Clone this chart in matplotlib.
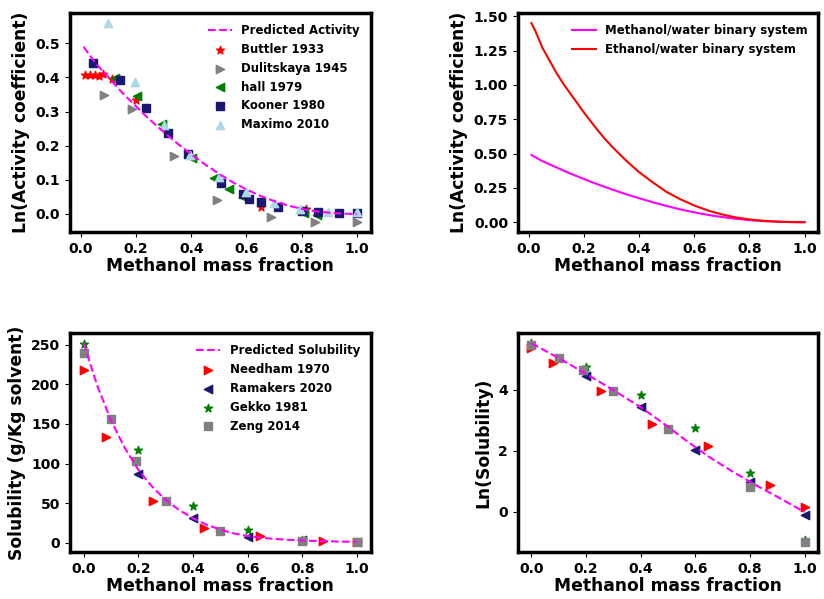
import numpy as np
import matplotlib
matplotlib.use('Agg')
import matplotlib.pyplot as plt

plt.rcParams['font.weight'] = 'bold'
plt.rcParams['axes.labelweight'] = 'bold'

# activity coefficient (methanol / water)
x_pred = [0.01, 0.025, 0.05, 0.075, 0.1, 0.125, 0.15, 0.175, 0.2, 0.225, 0.25, 0.275, 0.3,
          0.35, 0.4, 0.45, 0.5, 0.55, 0.6, 0.65, 0.7, 0.75, 0.8, 0.85, 0.9, 0.95, 1.0]
ln_gamma_meoh = [0.49, 0.472, 0.445, 0.422, 0.40, 0.377, 0.355, 0.335, 0.315, 0.295, 0.276, 0.258, 0.24,
                 0.206, 0.175, 0.145, 0.118, 0.093, 0.072, 0.053, 0.038, 0.025, 0.015, 0.008, 0.004, 0.001, 0.0]
ln_gamma_etoh = [1.45, 1.39, 1.27, 1.18, 1.09, 1.01, 0.94, 0.87, 0.80, 0.735, 0.67, 0.61, 0.555,
                 0.455, 0.365, 0.29, 0.22, 0.167, 0.122, 0.085, 0.057, 0.035, 0.02, 0.01, 0.004, 0.001, 0.0]

buttler_x = [0.015, 0.032, 0.05, 0.065, 0.08, 0.112, 0.2, 0.654, 0.815]
buttler_y = [0.408, 0.406, 0.408, 0.405, 0.41, 0.394, 0.335, 0.02, 0.016]
dulit_x = [0.082, 0.185, 0.338, 0.493, 0.688, 0.849, 1.0]
dulit_y = [0.349, 0.308, 0.170, 0.040, -0.01, -0.024, -0.024]
hall_x = [0.124, 0.203, 0.293, 0.402, 0.481, 0.537, 0.586, 0.712, 0.81, 0.857]
hall_y = [0.397, 0.347, 0.264, 0.165, 0.106, 0.072, 0.049, 0.023, 0.003, -0.002]
kooner_x = [0.042, 0.142, 0.236, 0.314, 0.389, 0.507, 0.586, 0.61, 0.654, 0.715, 0.80, 0.86, 0.936, 1.0]
kooner_y = [0.441, 0.392, 0.311, 0.236, 0.175, 0.092, 0.059, 0.044, 0.0345, 0.02, 0.01, 0.005, 0.003, 0.003]
maximo_x = [0.098, 0.197, 0.30, 0.395, 0.50, 0.598, 0.698, 0.795, 0.897, 1.0]
maximo_y = [0.559, 0.387, 0.262, 0.173, 0.109, 0.064, 0.0325, 0.016, 0.005, 0.005]

# solubility (g/Kg solvent)
x_sol = [0.0, 0.05, 0.1, 0.15, 0.2, 0.25, 0.3, 0.35, 0.4, 0.45, 0.5,
         0.55, 0.6, 0.65, 0.7, 0.75, 0.8, 0.85, 0.9, 0.95, 1.0]
sol_pred = [252, 198, 154.5, 120, 92, 71, 54, 41, 31, 22.6, 16.4,
            11.6, 8.4, 6.1, 4.6, 3.5, 2.7, 2.1, 1.65, 1.28, 1.0]

needham_x = [0.0, 0.08, 0.255, 0.44, 0.647, 0.875, 1.0]
needham_y = [218, 133, 53, 18, 8.8, 2.4, 1.16]
ramakers_x = [0.2, 0.4, 0.6, 0.8, 1.0]
ramakers_y = [87, 31, 7.6, 2.7, 0.92]
gekko_x = [0.0, 0.2, 0.4, 0.6, 0.8, 1.0]
gekko_y = [251, 117, 46, 15.5, 3.6, 0.4]
zeng_x = [0.0, 0.1, 0.19, 0.3, 0.5, 0.8, 1.0]
zeng_y = [240, 156, 103.5, 53, 15.3, 2.25, 0.37]

fig, axs = plt.subplots(2, 2, figsize=(8.24, 5.99), dpi=100)
plt.subplots_adjust(left=0.085, right=0.993, top=0.978, bottom=0.078, wspace=0.49, hspace=0.462)

def style(ax, ylabel):
    ax.set_xlabel('Methanol mass fraction', fontsize=12.3, fontweight='bold', labelpad=0.5)
    ax.set_ylabel(ylabel, fontsize=12.3, fontweight='bold')
    for s in ax.spines.values():
        s.set_linewidth(2.5)
    ax.tick_params(labelsize=10)
    ax.set_xticks([0.0, 0.2, 0.4, 0.6, 0.8, 1.0])

ax = axs[0, 0]
ax.plot(x_pred, ln_gamma_meoh, '--', color='magenta', label='Predicted Activity')
ax.scatter(buttler_x, buttler_y, marker='*', color='red', label='Buttler 1933')
ax.scatter(dulit_x, dulit_y, marker='>', color='grey', label='Dulitskaya 1945')
ax.scatter(hall_x, hall_y, marker='<', color='green', label='hall 1979')
ax.scatter(kooner_x, kooner_y, marker='s', color='midnightblue', label='Kooner 1980')
ax.scatter(maximo_x, maximo_y, marker='^', color='lightblue', label='Maximo 2010')
ax.legend(frameon=False, fontsize=8.5)
style(ax, 'Ln(Activity coefficient)')

ax = axs[0, 1]
ax.plot(x_pred, ln_gamma_meoh, color='magenta', label='Methanol/water binary system')
ax.plot(x_pred, ln_gamma_etoh, color='red', label='Ethanol/water binary system')
ax.legend(frameon=False, fontsize=8.5)
style(ax, 'Ln(Activity coefficient)')

ax = axs[1, 0]
ax.plot(x_sol, sol_pred, '--', color='magenta', label='Predicted Solubility')
ax.scatter(needham_x, needham_y, marker='>', color='red', label='Needham 1970')
ax.scatter(ramakers_x, ramakers_y, marker='<', color='midnightblue', label='Ramakers 2020')
ax.scatter(gekko_x, gekko_y, marker='*', color='green', label='Gekko 1981')
ax.scatter(zeng_x, zeng_y, marker='s', color='grey', label='Zeng 2014')
ax.legend(frameon=False, fontsize=8.5)
style(ax, 'Solubility (g/Kg solvent)')

ax = axs[1, 1]
ax.plot(x_sol, np.log(sol_pred), '--', color='magenta')
ax.scatter(needham_x, np.log(needham_y), marker='>', color='red')
ax.scatter(ramakers_x, np.log(ramakers_y), marker='<', color='midnightblue')
ax.scatter(gekko_x, np.log(gekko_y), marker='*', color='green')
ax.scatter(zeng_x, np.log(zeng_y), marker='s', color='grey')
style(ax, 'Ln(Solubility)')

plt.savefig('out.png', dpi=100)
